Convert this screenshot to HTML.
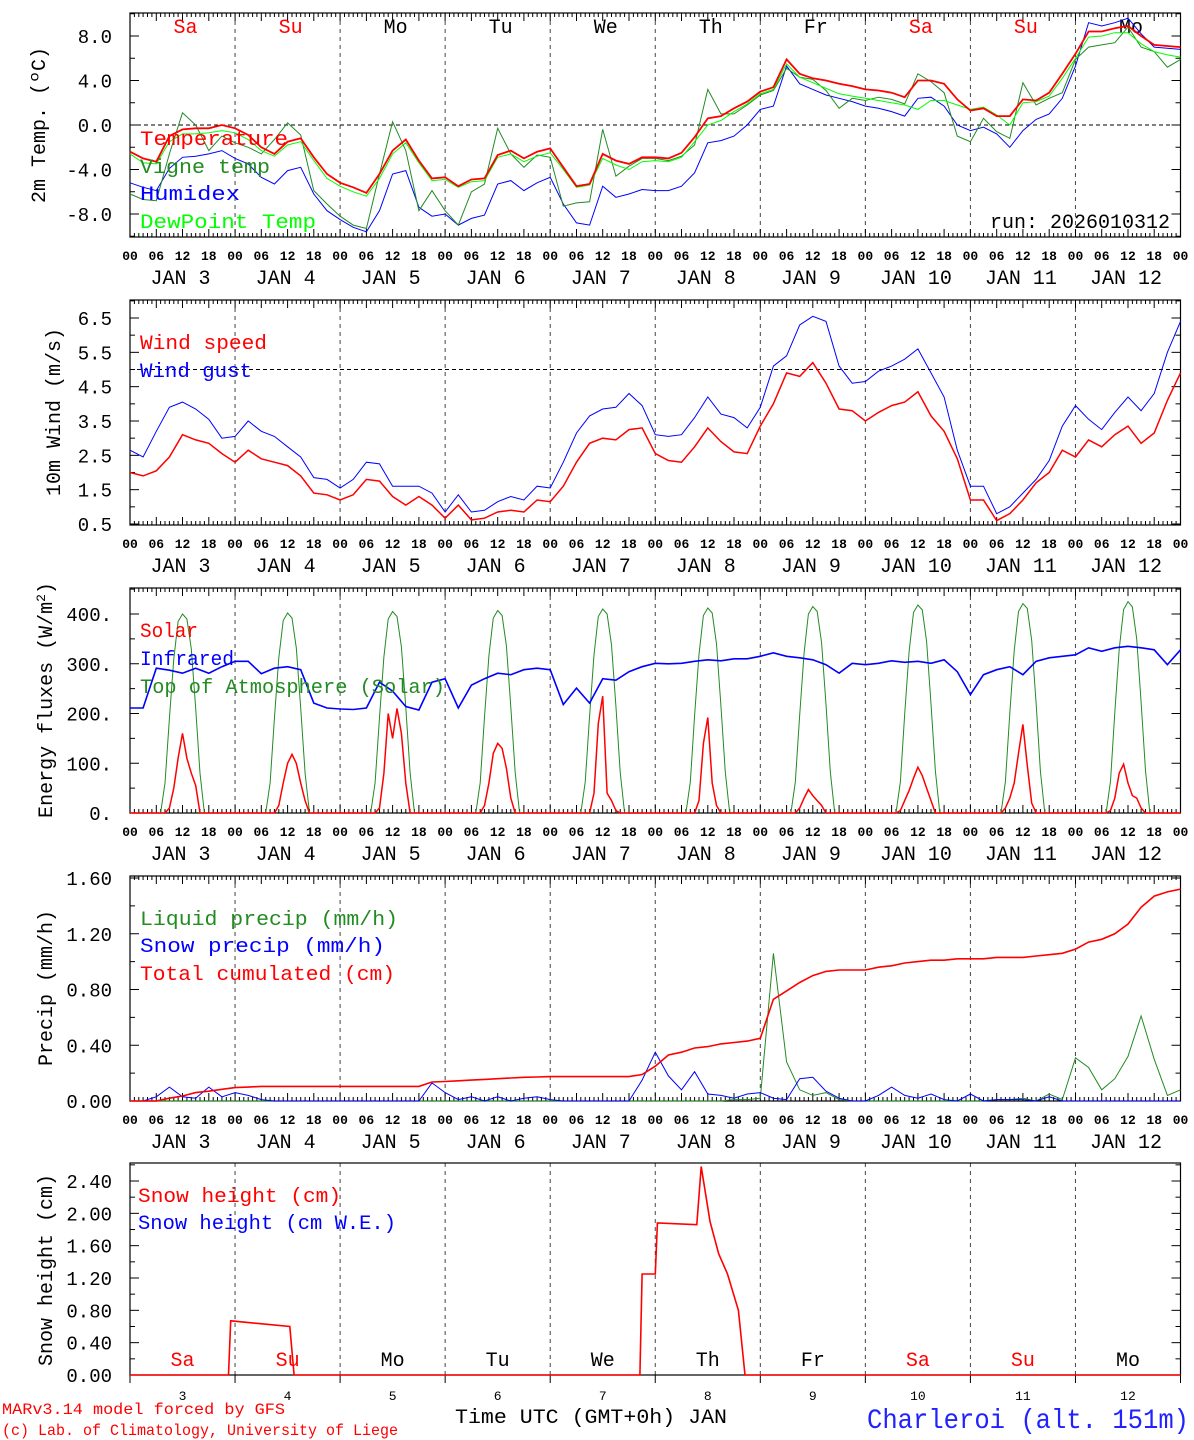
<!DOCTYPE html>
<html><head><meta charset="utf-8"><style>
html,body{margin:0;padding:0;background:#fff;}
svg{display:block;font-family:"Liberation Mono",monospace;}
</style></head><body>
<svg id="chart" xmlns="http://www.w3.org/2000/svg" width="1194" height="1440" viewBox="0 0 1194 1440">
<rect width="1194" height="1440" fill="#fff"/>
<g id="layer"></g>
<text x="45" y="125" transform="rotate(-90 45 125)" text-anchor="middle" font-size="20">2m Temp. (ºC)</text>
<text x="60" y="412" transform="rotate(-90 60 412)" text-anchor="middle" font-size="20">10m Wind (m/s)</text>
<text x="52" y="700" transform="rotate(-90 52 700)" text-anchor="middle" font-size="20">Energy fluxes (W/m<tspan dy="-7" font-size="13">2</tspan><tspan dy="7">)</tspan></text>
<text x="52" y="988" transform="rotate(-90 52 988)" text-anchor="middle" font-size="20">Precip (mm/h)</text>
<text x="52" y="1270" transform="rotate(-90 52 1270)" text-anchor="middle" font-size="20">Snow height (cm)</text>
<text x="140" y="145" font-size="20" fill="#ff0000" textLength="148" lengthAdjust="spacingAndGlyphs">Temperature</text>
<text x="140" y="173" font-size="20" fill="#228b22" textLength="130" lengthAdjust="spacingAndGlyphs">Vigne temp</text>
<text x="140" y="200" font-size="20" fill="#0000ff" textLength="100" lengthAdjust="spacingAndGlyphs">Humidex</text>
<text x="140" y="228" font-size="20" fill="#00ff00" textLength="176" lengthAdjust="spacingAndGlyphs">DewPoint Temp</text>
<text x="990" y="228" font-size="20" textLength="180">run: 2026010312</text>
<text x="140" y="349" font-size="20" fill="#ff0000" textLength="127" lengthAdjust="spacingAndGlyphs">Wind speed</text>
<text x="140" y="377" font-size="20" fill="#0000ff" textLength="112" lengthAdjust="spacingAndGlyphs">Wind gust</text>
<text x="140" y="637" font-size="20" fill="#ff0000" textLength="58" lengthAdjust="spacingAndGlyphs">Solar</text>
<text x="140" y="665" font-size="20" fill="#0000ff" textLength="94" lengthAdjust="spacingAndGlyphs">Infrared</text>
<text x="140" y="693" font-size="20" fill="#228b22" textLength="305" lengthAdjust="spacingAndGlyphs">Top of Atmosphere (Solar)</text>
<text x="140" y="925" font-size="20" fill="#228b22" textLength="258" lengthAdjust="spacingAndGlyphs">Liquid precip (mm/h)</text>
<text x="140" y="952" font-size="20" fill="#0000ff" textLength="245" lengthAdjust="spacingAndGlyphs">Snow precip (mm/h)</text>
<text x="140" y="980" font-size="20" fill="#ff0000" textLength="255" lengthAdjust="spacingAndGlyphs">Total cumulated (cm)</text>
<text x="138" y="1202" font-size="20" fill="#ff0000" textLength="203" lengthAdjust="spacingAndGlyphs">Snow height (cm)</text>
<text x="138" y="1229" font-size="20" fill="#0000ff" textLength="258" lengthAdjust="spacingAndGlyphs">Snow height (cm W.E.)</text>
<text x="2" y="1414" font-size="16" fill="#ff0000" textLength="283" lengthAdjust="spacingAndGlyphs">MARv3.14 model forced by GFS</text>
<text x="2" y="1435" font-size="16" fill="#ff0000" textLength="396" lengthAdjust="spacingAndGlyphs">(c) Lab. of Climatology, University of Liege</text>
<text x="455" y="1423" font-size="20" textLength="272" lengthAdjust="spacingAndGlyphs">Time UTC (GMT+0h) JAN</text>
<text x="867" y="1428" font-size="28" fill="#2222ff" textLength="322" lengthAdjust="spacingAndGlyphs">Charleroi (alt. 151m)</text>
</svg>
<script>
// ---- temperature panel data (3-hourly from 00 UTC Jan 3) ----
const tempValues = [-2.4,-3.0,-3.3,-1.0,-0.4,-0.3,-0.3,0.0, -0.3,-0.9,-2.0,-2.6,-1.5,-1.2,-2.9,-4.4, -5.2,-5.6,-6.1,-4.4,-2.3,-1.3,-3.2,-4.8, -4.7,-5.5,-4.9,-4.8,-2.7,-2.3,-3.0,-2.4, -2.1,-3.8,-5.5,-5.3,-2.6,-3.2,-3.5,-2.9, -2.9,
 -3.0,-2.5,-1.1,0.6,0.8,1.5,2.1, 3.0,3.4,5.9,4.6,4.2,4.0,3.7,3.5, 3.2,3.1,2.9,2.5,4.0,4.0,3.7,2.3, 1.3,1.5,0.8,0.8,2.3,2.2,2.9,4.6, 6.4,8.4,8.4,8.7,8.9,8.0,7.2,7.1, 7.0];
const vigneValues = [-6.2,-6.7,-6.8,-2.6,1.1,0.0,-2.3,-1.0, -1.6,-2.0,-2.6,-1.3,0.2,-0.9,-5.9,-7.1, -8.2,-9.0,-9.3,-4.4,0.3,-2.3,-7.7,-5.9, -7.7,-9.0,-6.0,-5.3,-0.3,-2.6,-3.8,-2.7, -2.9,-7.3,-7.0,-6.9,-0.4,-4.6,-3.7,-3.0, -3.0,
 -3.2,-2.8,-1.8,3.2,1.0,1.0,1.8, 2.7,3.1,5.1,4.3,4.1,3.1,1.5,2.4, 2.2,2.5,2.3,1.9,4.6,3.9,2.9,-1.0, -1.5,0.6,-0.6,-1.2,3.8,1.8,2.4,2.9, 5.9,7.0,7.2,7.4,8.8,7.0,6.6,5.2, 5.9];
const humidexValues = [-5.2,-5.6,-5.9,-3.9,-2.9,-2.8,-2.6,-2.3, -3.0,-3.5,-4.7,-5.3,-4.1,-3.8,-6.2,-7.7, -8.5,-9.2,-9.6,-7.7,-4.4,-4.1,-7.4,-8.2, -8.0,-9.0,-8.4,-8.1,-5.3,-5.0,-5.9,-5.2, -4.7,-7.1,-8.8,-9.0,-5.5,-6.5,-6.2,-5.8, -5.9,
 -5.9,-5.5,-4.3,-1.6,-1.4,-1.0,0.0, 1.4,1.7,5.3,3.7,3.2,2.7,2.4,2.1, 1.7,1.5,1.2,0.8,2.4,2.5,1.7,0.0, -0.5,-0.2,-0.8,-2.0,-0.5,0.5,1.0,2.4, 5.3,9.2,8.9,9.2,9.6,8.2,7.0,6.9, 6.8];
const dewValues = [-2.6,-3.4,-3.5,-1.5,-0.8,-0.8,-0.7,-0.5, -0.7,-1.3,-2.3,-2.8,-1.8,-1.5,-3.2,-4.8, -5.5,-6.0,-6.4,-4.8,-2.6,-1.6,-3.4,-5.0, -4.9,-5.6,-5.1,-5.0,-2.9,-2.6,-3.3,-2.8, -2.5,-4.0,-5.6,-5.4,-3.0,-3.6,-4.0,-3.3, -3.2,
 -3.3,-2.9,-1.5,0.0,0.4,1.2,1.9, 2.8,3.2,5.5,4.3,3.8,3.3,2.8,2.6, 2.4,2.2,2.0,1.8,1.4,2.2,2.2,1.8, 1.4,1.6,0.9,0.0,2.0,2.1,2.6,4.2, 6.0,7.9,8.0,8.3,8.3,7.3,6.6,6.3, 6.1];
const tempTicks = [-8, -4, 0, 4, 8];
const tempTickLabels = ["-8.0","-4.0","0.0","4.0","8.0"];
// ---- wind ----
const windSpeedValues = [2.0,1.9,2.05,2.45,3.1,2.95,2.85,2.55, 2.3,2.65,2.4,2.3,2.2,1.9,1.4,1.35, 1.2,1.35,1.8,1.75,1.3,1.05,1.3,1.05, 0.67,1.05,0.62,0.67,0.85,0.9,0.85,1.2, 1.15,1.6,2.3,2.85,3.0,2.95,3.25,3.3, 2.55,2.35,2.3,2.75,3.3,2.9,2.6,2.55, 3.35,4.0,4.9,4.8,5.2,4.6,3.85,3.8, 3.5,3.75,3.95,4.05,4.35,3.65,3.2,2.4, 1.2,1.2,0.6,0.8,1.2,1.7,2.0,2.65, 2.45,2.95,2.75,3.1,3.35,2.85,3.15,4.1, 4.9];
const windGustValues = [2.65,2.45,3.2,3.9,4.05,3.85,3.55,3.0, 3.05,3.5,3.2,3.05,2.75,2.45,1.85,1.8, 1.55,1.8,2.3,2.25,1.6,1.6,1.6,1.4, 0.85,1.35,0.85,0.9,1.15,1.3,1.2,1.6, 1.55,2.3,3.15,3.65,3.85,3.9,4.3,3.95, 3.1,3.05,3.1,3.6,4.2,3.7,3.6,3.3, 3.9,5.1,5.4,6.3,6.55,6.4,5.1,4.6, 4.65,4.95,5.1,5.3,5.6,4.9,4.2,2.65, 1.6,1.6,0.8,1.0,1.4,1.8,2.35,3.35, 3.95,3.55,3.25,3.75,4.2,3.8,4.3,5.5, 6.4];
const windTicks = [0.5,1.5,2.5,3.5,4.5,5.5,6.5];
const windTickLabels = ["0.5","1.5","2.5","3.5","4.5","5.5","6.5"];
// ---- energy ----
const infraredValues = [211,211,291,287,281,291,281,294, 305,305,280,291,294,288,221,211, 209,208,211,263,245,214,207,263, 270,211,257,270,281,278,288,291, 288,218,251,221,270,267,284,294, 301,300,301,305,308,306,310,310, 315,322,315,312,308,298,281,301, 298,301,306,303,305,301,308,284, 238,278,288,294,278,305,312,315, 318,332,325,332,335,332,328,298, 328];
// hourly values 07..17 UTC for each day (Jan 3 .. Jan 12)
const toaDaylight = [
 [0,60,190,310,385,400,390,330,210,80,0],
 [0,60,190,312,387,402,392,332,211,80,0],
 [0,61,192,314,390,405,395,334,212,81,0],
 [0,61,193,316,392,407,397,336,213,81,0],
 [0,62,195,318,395,410,400,338,215,82,0],
 [0,62,196,319,397,412,402,340,216,82,0],
 [0,62,197,322,400,415,405,342,218,83,0],
 [0,63,199,324,403,418,408,345,219,84,0],
 [0,63,200,326,405,421,411,347,221,84,0],
 [0,64,202,329,409,425,414,350,223,85,0]];
const solarDaylight = [
 [0,0,10,50,110,160,110,80,55,0,0],
 [0,0,0,15,60,100,118,100,60,25,0],
 [0,0,10,80,200,150,210,160,60,0,0],
 [0,0,15,60,120,140,130,90,30,0,0],
 [0,0,0,40,180,235,40,25,5,0,0],
 [0,0,0,25,140,192,60,15,0,0,0],
 [0,0,10,30,47,35,25,15,0,0,0],
 [0,5,25,45,70,92,75,50,25,0,0],
 [0,10,30,60,120,178,95,20,0,0,0],
 [0,5,30,80,98,60,35,30,10,0,0]];
const energyTicks = [0,100,200,300,400];
const energyTickLabels = ["0.","100.","200.","300.","400."];
// ---- precipitation ----
const liquidValues = [0,0,0,0,0,0,0,0, 0,0,0,0,0,0,0,0, 0,0,0,0,0,0,0,0, 0,0,0,0,0,0,0,0, 0,0,0,0,0,0,0,0, 0,0,0,0,0,0,0.01,0.01, 0.02,1.06,0.28,0.08,0.04,0.06,0.01,0, 0,0,0,0,0,0,0,0, 0,0,0.01,0.01,0.02,0,0.05,0.01, 0.31,0.24,0.08,0.16,0.32,0.61,0.3,0.04, 0.08];
const snowPrecipValues = [0,0,0.03,0.1,0.03,0.02,0.1,0.03, 0.06,0.04,0.01,0,0,0,0,0, 0,0,0,0,0,0,0,0.13, 0.06,0.01,0.03,0,0.03,0,0.02,0.03, 0.01,0,0,0,0,0,0,0.15, 0.35,0.18,0.08,0.21,0.05,0.04,0.02,0.05, 0.06,0.02,0.01,0.16,0.17,0.07,0.02,0, 0,0.04,0.1,0.04,0.02,0.05,0.01,0, 0.05,0,0.01,0.01,0.01,0,0.03,0, 0,0,0,0,0,0,0,0, 0];
const cumulValues = [0,0,0,0.02,0.036,0.06,0.07,0.084, 0.096,0.1,0.105,0.105,0.105,0.105,0.105,0.105, 0.105,0.105,0.105,0.105,0.105,0.105,0.105,0.136, 0.14,0.145,0.15,0.155,0.16,0.165,0.17,0.172, 0.175,0.175,0.175,0.175,0.175,0.175,0.175,0.19, 0.25,0.33,0.35,0.38,0.39,0.41,0.42,0.43, 0.45,0.73,0.79,0.85,0.9,0.93,0.94,0.94, 0.94,0.96,0.97,0.99,1.0,1.01,1.01,1.02, 1.02,1.02,1.03,1.03,1.03,1.04,1.05,1.06, 1.09,1.14,1.16,1.2,1.27,1.39,1.47,1.5, 1.52];
const precipTicks = [0,0.4,0.8,1.2,1.6];
const precipTickLabels = ["0.00","0.40","0.80","1.20","1.60"];
// ---- snow height ----
const snowHours = [0,22.5,23,36.5,37.5,116.5,117,120,120.5,129.5,130.5,132.5,134.5,136.5,139,140.5,240];
const snowHeightValues = [0,0,0.67,0.60,0,0,1.25,1.25,1.88,1.86,2.58,1.9,1.5,1.25,0.8,0,0];
const snowTicks = [0,0.4,0.8,1.2,1.6,2.0,2.4];
const snowTickLabels = ["0.00","0.40","0.80","1.20","1.60","2.00","2.40"];
// ---- axes categories ----
const weekdays = ["Sa","Su","Mo","Tu","We","Th","Fr","Sa","Su","Mo"];
const dayNumbers = ["3","4","5","6","7","8","9","10","11","12"];
const hourLabels = ["00","06","12","18"];

const NS = "http://www.w3.org/2000/svg";
const layer = document.getElementById("layer");
const X0 = 130, X1 = 1180.5;
function X(h){ return X0 + h*(X1-X0)/240; }
function mk(tag, attrs, parent){
  const e = document.createElementNS(NS, tag);
  for (const k in attrs) e.setAttribute(k, attrs[k]);
  (parent||layer).appendChild(e);
  return e;
}
function scale(v0,p0,v1,p1){ return v => p0 + (v-v0)*(p1-p0)/(v1-v0); }

const panels = [
  {name:"temp", top:13, bot:237, y:scale(8,36,-8,214), ticks:tempTicks, labels:tempTickLabels, minor:[-10,-6,-2,2,6,10], hour:true},
  {name:"wind", top:300, bot:525, y:scale(6.5,318,0.5,524), ticks:windTicks, labels:windTickLabels, minor:[1,2,3,4,5,6,7], hour:true},
  {name:"energy", top:588, bot:813, y:scale(400,614,0,813), ticks:energyTicks, labels:energyTickLabels, minor:[50,150,250,350,450], hour:true},
  {name:"precip", top:876, bot:1101, y:scale(1.6,878,0,1101), ticks:precipTicks, labels:precipTickLabels, minor:[0.2,0.6,1.0,1.4], hour:true},
  {name:"snow", top:1163, bot:1375, y:scale(2.4,1181,0,1375), ticks:snowTicks, labels:snowTickLabels, minor:[0.2,0.6,1.0,1.4,1.8,2.2,2.6], hour:false}
];

panels.forEach(p => {
  for (let d=1; d<10; d++){
    const l = mk("line",{x1:X(d*24),x2:X(d*24),y1:p.top,y2:p.bot,stroke:"#444","stroke-width":1,"stroke-dasharray":"4,4"});
    
    
  }
  p.ticks.forEach((v,i) => {
    const yy = p.y(v);
    const t1 = mk("line",{x1:X0,x2:X0+9,y1:yy,y2:yy,stroke:"#000"});
    
    
    const t2 = mk("line",{x1:X1-9,x2:X1,y1:yy,y2:yy,stroke:"#000"});
    
    
    const tl = mk("text",{x:112,y:yy+7,"text-anchor":"end","font-size":19});
    tl.textContent = p.labels[i];
    
    
  });
  p.minor.forEach(v => {
    const yy = p.y(v);
    if (yy < p.top || yy > p.bot) return;
    const m1 = mk("line",{x1:X0,x2:X0+5,y1:yy,y2:yy,stroke:"#000"});
    
    
    const m2 = mk("line",{x1:X1-5,x2:X1,y1:yy,y2:yy,stroke:"#000"});
    
    
  });
  if (p.hour){
    let d = "";
    for (let h=0; h<=240; h++){
      const len = h%6===0 ? 8 : 4;
      d += "M"+X(h).toFixed(1)+","+p.top+"v"+len+"M"+X(h).toFixed(1)+","+p.bot+"v-"+len;
    }
    const ht = mk("path",{d:d,stroke:"#000","stroke-width":1,fill:"none"});
    
    
    for (let h=0; h<=240; h+=6){
      const lab = mk("text",{x:X(h),y:p.bot+23,"text-anchor":"middle","font-size":13,"font-weight":"bold"});
      lab.textContent = hourLabels[(h/6)%4];
      
      
    }
    for (let dd=0; dd<10; dd++){
      const dl = mk("text",{x:X(dd*24+12)-2,y:p.bot+47,"text-anchor":"middle","font-size":20});
      dl.textContent = "JAN " + (dayNumbers[dd].length<2 ? " " : "") + dayNumbers[dd];
      
      
    }
  } else {
    for (let dd=0; dd<=10; dd++){
      const bt = mk("line",{x1:X(dd*24),x2:X(dd*24),y1:p.bot,y2:p.bot+8,stroke:"#000"});
      
      
    }
    for (let dd=0; dd<10; dd++){
      const dn = mk("text",{x:X(dd*24+12),y:1400,"text-anchor":"middle","font-size":13});
      dn.textContent = dayNumbers[dd];
      
      
    }
  }
  const fr = mk("rect",{x:X0,y:p.top,width:X1-X0,height:p.bot-p.top,fill:"none",stroke:"#000","stroke-width":1.2});
  
  
});

weekdays.forEach((w,i) => {
  const col = (w==="Sa"||w==="Su") ? "#ff0000" : "#000";
  const a = mk("text",{x:X(i*24+12)+3,y:33,"text-anchor":"middle","font-size":20,fill:col});
  a.textContent = w;
  
  
  const b = mk("text",{x:X(i*24+12),y:1366,"text-anchor":"middle","font-size":20,fill:col});
  b.textContent = w;
  
  
});

const z0 = panels[0].y(0);
const zl = mk("line",{x1:X0,x2:X1,y1:z0,y2:z0,stroke:"#000","stroke-dasharray":"4,3"});


const w5 = panels[1].y(5);
const wl = mk("line",{x1:X0,x2:X1,y1:w5,y2:w5,stroke:"#000","stroke-dasharray":"4,3"});



function seriesPath(vals, ys, stepH){
  return vals.map((v,i) => (i?"L":"M")+X(i*stepH).toFixed(1)+","+ys(v).toFixed(1)).join("");
}
function hourlyFromDaylight(days){
  const out = [];
  for (let d=0; d<days.length; d++){
    for (let h=0; h<24; h++) out.push(h>=7 && h<=17 ? days[d][h-7] : 0);
  }
  out.push(0);
  return out;
}

const P = panels;
let e;
e = mk("path",{d:seriesPath(humidexValues,P[0].y,3),fill:"none",stroke:"#0000ff","stroke-width":1});


e = mk("path",{d:seriesPath(vigneValues,P[0].y,3),fill:"none",stroke:"#228b22","stroke-width":1});


e = mk("path",{d:seriesPath(dewValues,P[0].y,3),fill:"none",stroke:"#00ff00","stroke-width":1});


e = mk("path",{d:seriesPath(tempValues,P[0].y,3),fill:"none",stroke:"#ff0000","stroke-width":1.8});


e = mk("path",{d:seriesPath(windGustValues,P[1].y,3),fill:"none",stroke:"#0000ff","stroke-width":1});


e = mk("path",{d:seriesPath(windSpeedValues,P[1].y,3),fill:"none",stroke:"#ff0000","stroke-width":1.5});


e = mk("path",{d:seriesPath(hourlyFromDaylight(toaDaylight),P[2].y,1),fill:"none",stroke:"#228b22","stroke-width":1});


e = mk("path",{d:seriesPath(infraredValues,P[2].y,3),fill:"none",stroke:"#0000ff","stroke-width":1.6});


e = mk("path",{d:seriesPath(hourlyFromDaylight(solarDaylight),P[2].y,1),fill:"none",stroke:"#ff0000","stroke-width":1.5});


e = mk("path",{d:seriesPath(liquidValues,P[3].y,3),fill:"none",stroke:"#228b22","stroke-width":1});


e = mk("path",{d:seriesPath(snowPrecipValues,P[3].y,3),fill:"none",stroke:"#0000ff","stroke-width":1});


e = mk("path",{d:seriesPath(cumulValues,P[3].y,3),fill:"none",stroke:"#ff0000","stroke-width":1.6});


const sd = snowHours.map((h,i) => (i?"L":"M")+X(h).toFixed(1)+","+P[4].y(snowHeightValues[i]).toFixed(1)).join("");
e = mk("path",{d:sd,fill:"none",stroke:"#ff0000","stroke-width":1.6});


</script>
</body></html>
